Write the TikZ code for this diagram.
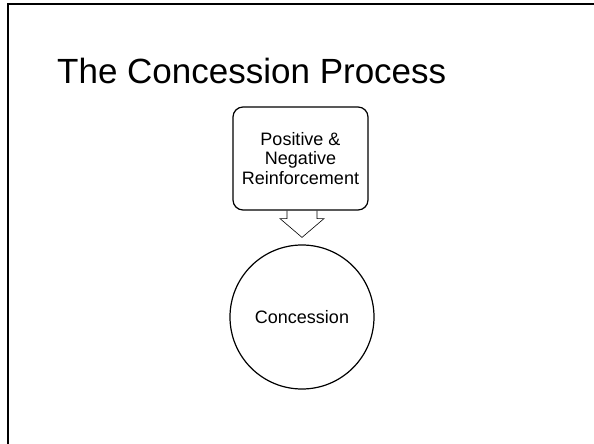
\documentclass[tikz,border=0pt]{standalone}
\usepackage{fontspec}
\setmainfont{Liberation Sans}
\usetikzlibrary{calc}

\begin{document}
\begin{tikzpicture}[x=1pt,y=-1pt,
  roundbox/.style={draw,line width=1.2pt,rounded corners=10pt,minimum width=135pt,minimum height=103pt,align=center,inner sep=0pt,font=\fontsize{18}{19.5}\selectfont},
  bubble/.style={draw,circle,line width=1.2pt,minimum size=144pt,inner sep=0pt,font=\fontsize{18}{21}\selectfont}]
\useasboundingbox (0,0) rectangle (594,444);

% Slide frame
\draw[line width=2pt] (8,444) |- (594,4);

% Title
\node[anchor=base west,inner sep=0pt,font=\fontsize{35}{42}\selectfont] (title) at (57,83) {The Concession Process};

% Box and circle
\node[roundbox] (reinf) at (300.5,158.5) {Positive \&\\Negative\\Reinforcement};
\node[bubble] (conc) at (302,317) {Concession};

% Hollow arrow
\coordinate (tip) at ($(conc.north)+(0,-7)$);
\coordinate (top) at (reinf.south -| tip);
\draw[line width=0.6pt] ($(top)+(-15,0)$) -- ++(0,8) -- ++(-7,0) -- (tip)
  -- ($(top)+(22,8)$) -- ++(-7,0) -- ++(0,-8);
\end{tikzpicture}
\end{document}
